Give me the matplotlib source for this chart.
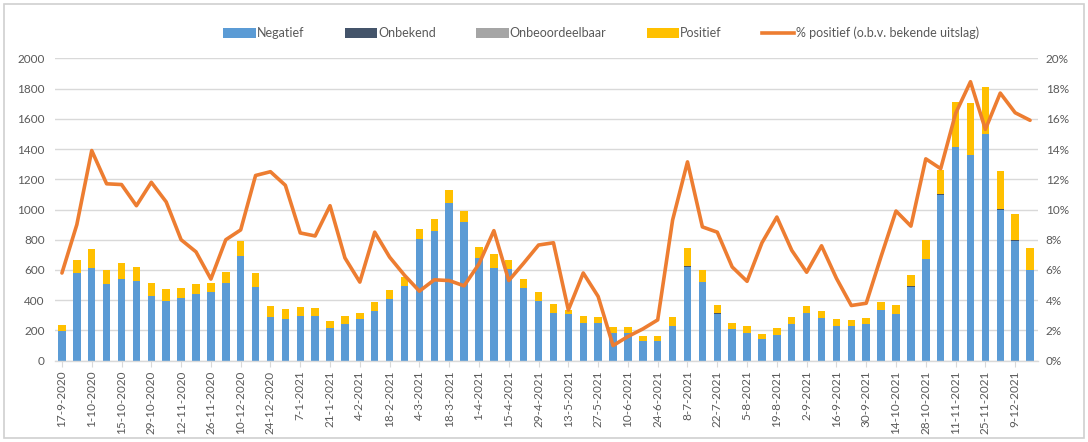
import matplotlib
matplotlib.use("Agg")
import matplotlib.pyplot as plt
from matplotlib.patches import Rectangle, Patch
from matplotlib.lines import Line2D
from matplotlib.ticker import FuncFormatter, MultipleLocator
import numpy as np

plt.rcParams['font.family'] = ['Lato', 'DejaVu Sans']

weeks = ["17-9-2020", "24-9-2020", "1-10-2020", "8-10-2020", "15-10-2020", "22-10-2020",
         "29-10-2020", "5-11-2020", "12-11-2020", "19-11-2020", "26-11-2020", "3-12-2020",
         "10-12-2020", "17-12-2020", "24-12-2020", "31-12-2020", "7-1-2021", "14-1-2021",
         "21-1-2021", "28-1-2021", "4-2-2021", "11-2-2021", "18-2-2021", "25-2-2021",
         "4-3-2021", "11-3-2021", "18-3-2021", "25-3-2021", "1-4-2021", "8-4-2021",
         "15-4-2021", "22-4-2021", "29-4-2021", "6-5-2021", "13-5-2021", "20-5-2021",
         "27-5-2021", "3-6-2021", "10-6-2021", "17-6-2021", "24-6-2021", "1-7-2021",
         "8-7-2021", "15-7-2021", "22-7-2021", "29-7-2021", "5-8-2021", "12-8-2021",
         "19-8-2021", "26-8-2021", "2-9-2021", "9-9-2021", "16-9-2021", "23-9-2021",
         "30-9-2021", "7-10-2021", "14-10-2021", "21-10-2021", "28-10-2021", "4-11-2021",
         "11-11-2021", "18-11-2021", "25-11-2021", "2-12-2021", "9-12-2021", "16-12-2021"]

negatief = [195, 579, 612, 508, 539, 530, 427, 398, 415, 442, 457, 517, 692, 486, 292, 276,
            294, 294, 214, 243, 276, 328, 410, 491, 805, 860, 1045, 919, 677, 615, 604, 478,
            397, 318, 306, 247, 247, 185, 181, 132, 132, 232, 622, 518, 309, 212, 185, 141,
            170, 240, 318, 280, 232, 232, 243, 335, 309, 490, 670, 1096, 1411, 1360, 1497,
            997, 792, 600]

onbekend = [0, 0, 0, 0, 0, 0, 0, 0, 0, 0, 0, 0, 0, 0, 0, 0,
            0, 0, 0, 0, 0, 0, 0, 0, 0, 0, 0, 0, 0, 0, 0, 0,
            0, 0, 5, 0, 0, 0, 0, 0, 0, 0, 6, 0, 6, 0, 0, 0,
            0, 0, 0, 0, 0, 0, 0, 0, 0, 5, 5, 5, 0, 0, 0,
            4, 3, 0]

onbeoordeelbaar = [0] * 66

positief = [43, 85, 129, 93, 106, 89, 86, 77, 65, 62, 56, 69, 97, 95, 73, 64,
            62, 55, 51, 51, 42, 60, 55, 61, 67, 77, 84, 73, 73, 88, 62, 60,
            59, 55, 22, 48, 40, 40, 39, 31, 33, 55, 117, 82, 53, 39, 47, 35,
            48, 47, 46, 49, 41, 37, 37, 51, 59, 72, 123, 160, 302, 347, 311,
            256, 175, 143]

pct_positief = [5.8, 9.0, 13.9, 11.7, 11.65, 10.25, 11.8, 10.5, 8.0, 7.2,
                5.4, 8.0, 8.65, 12.25, 12.5, 11.6, 8.45, 8.25, 10.25, 6.8,
                5.2, 8.5, 6.85, 5.65, 4.6, 5.35, 5.3, 4.95, 6.4, 8.6,
                5.3, 6.45, 7.65, 7.8, 3.35, 5.8, 4.25, 1.0, 1.6, 2.1,
                2.7, 9.3, 13.15, 8.85, 8.5, 6.2, 5.25, 7.8, 9.5, 7.3,
                5.85, 7.6, 5.45, 3.65, 3.8, 6.9, 9.9, 8.9, 13.35, 12.7,
                16.35, 18.45, 15.3, 17.7, 16.4, 15.9]

C_NEG = "#5B9BD5"
C_ONB = "#44546A"
C_BEO = "#A5A5A5"
C_POS = "#FFC000"
C_LINE = "#ED7D31"
C_TXT = "#595959"
C_GRID = "#D9D9D9"

W, H = 1088, 442
fig = plt.figure(figsize=(W / 100, H / 100), dpi=100)
fig.patch.set_facecolor("white")

# outer frame
fig.add_artist(Rectangle((4 / W, 4 / H), 1080 / W, 434 / H, transform=fig.transFigure,
                         fill=False, edgecolor="#D0D0D0", linewidth=1.2))

left, right = 54.5 / W, 1037.5 / W
bottom, top = (H - 360.7) / H, (H - 58.3) / H
ax = fig.add_axes([left, bottom, right - left, top - bottom])
ax2 = ax.twinx()

x = np.arange(len(weeks))
neg = np.array(negatief, float)
onb = np.array(onbekend, float)
beo = np.array(onbeoordeelbaar, float)
pos = np.array(positief, float)
bw = 0.5
ax.bar(x, neg, bw, color=C_NEG, zorder=2)
ax.bar(x, onb, bw, bottom=neg, color=C_ONB, zorder=2)
ax.bar(x, beo, bw, bottom=neg + onb, color=C_BEO, zorder=2)
ax.bar(x, pos, bw, bottom=neg + onb + beo, color=C_POS, zorder=2)

ax2.plot(x, pct_positief, color=C_LINE, linewidth=2.6, solid_joinstyle="round",
         solid_capstyle="round", zorder=3)

ax.set_xlim(-0.5, len(weeks) - 0.5)
ax.set_ylim(0, 2000)
ax2.set_ylim(0, 20)
ax.yaxis.set_major_locator(MultipleLocator(200))
ax2.yaxis.set_major_locator(MultipleLocator(2))
ax2.yaxis.set_major_formatter(FuncFormatter(lambda v, p: f"{int(round(v))}%"))

ax.grid(axis="y", color=C_GRID, linewidth=1.0, zorder=0)
ax.set_axisbelow(True)
for a in (ax, ax2):
    for s in ("top", "left", "right", "bottom"):
        a.spines[s].set_visible(False)
ax.spines["bottom"].set_visible(True)
ax.spines["bottom"].set_color(C_GRID)
ax.spines["bottom"].set_linewidth(1.0)

ax.set_xticks(x[::2])
ax.set_xticklabels(weeks[::2], rotation=90, fontsize=8.5, color=C_TXT)
ax.tick_params(axis="x", length=4, color=C_GRID, pad=3)
ax.tick_params(axis="y", length=0, labelsize=8.5, labelcolor=C_TXT, pad=7)
ax2.tick_params(axis="y", length=0, labelsize=8.5, labelcolor=C_TXT, pad=6)

handles = [Patch(facecolor=C_NEG, label="Negatief"),
           Patch(facecolor=C_ONB, label="Onbekend"),
           Patch(facecolor=C_BEO, label="Onbeoordeelbaar"),
           Patch(facecolor=C_POS, label="Positief"),
           Line2D([], [], color=C_LINE, linewidth=2.6, label="% positief (o.b.v. bekende uitslag)")]
leg = fig.legend(handles=handles, loc="center", bbox_to_anchor=(601 / W, 1 - 33 / H),
                 ncol=5, frameon=False, fontsize=9, handlelength=2.6, handleheight=0.8,
                 handletextpad=0.1, columnspacing=3.2, labelcolor=C_TXT)

fig.savefig("out.png", dpi=100, facecolor="white")
